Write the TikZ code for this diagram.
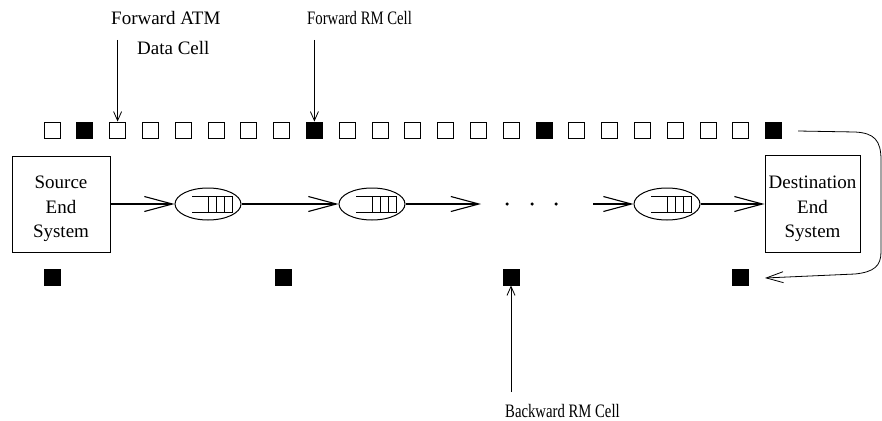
\documentclass[tikz,border=0pt]{standalone}
\usepackage{fontspec}
\setmainfont{Liberation Serif}
\newfontfamily\narrowserif[FakeStretch=0.775]{Liberation Serif}
\usetikzlibrary{arrows.meta,shapes.geometric}
\begin{document}
\begin{tikzpicture}[x=1pt,y=-1pt,
  cell/.style={draw,line width=0.9pt,minimum size=16pt,inner sep=0pt,fill=white},
  rmcell/.style={cell,fill=black},
  endsys/.style={draw,line width=1pt,inner sep=0pt},
  systext/.style={align=center,inner sep=0pt,font=\fontsize{19}{24.5}\selectfont},
  switchnode/.style={draw,ellipse,line width=1pt,minimum width=66pt,minimum height=32pt,inner sep=0pt},
  link/.style={line width=1.3pt,-{Straight Barb[length=28pt,width=15pt,line width=1.1pt]}},
  pointer/.style={line width=0.8pt,-{Straight Barb[length=9pt,width=8pt]}},
  loopback/.style={line width=0.8pt,-{Straight Barb[length=17pt,width=11pt]}},
  lbl/.style={font=\fontsize{19}{22}\selectfont,inner sep=0pt,anchor=base west},
  nlbl/.style={font=\narrowserif\fontsize{19}{22}\selectfont,inner sep=0pt,anchor=base west},
  dotnode/.style={circle,fill=black,inner sep=0pt,minimum size=3.5pt},
  queue/.style={line width=0.7pt}
]
\useasboundingbox (0,0) rectangle (882,420);

% top row of cells
\foreach \k in {0,...,22}{
  \pgfmathtruncatemacro{\r}{mod(\k,7)}
  \ifnum\r=1 \def\cs{rmcell}\else\def\cs{cell}\fi
  \node[\cs] (t\k) at ({52+32.8*\k},130) {};
}

% end systems
\node[endsys,minimum width=98pt,minimum height=96pt] (src) at (61,204) {};
\node[systext] (srcT) at (61,209) {Source\\End\\System};
\node[endsys,minimum width=95pt,minimum height=97pt] (dst) at (812.5,204) {};
\node[systext] (dstT) at (812.5,209) {Destination\\End\\System};

% switches
\node[switchnode] (q1) at (208,204) {};
\node[switchnode] (q2) at (372,204) {};
\node[switchnode] (q3) at (667,204) {};
\foreach \q in {q1,q2,q3}{
  \draw[queue] ([shift={(-16,-8)}]\q.center) -- ++(40,0) -- ++(0,16) -- ++(-40,0);
  \foreach \dx in {0,8,16} \draw[queue] ([shift={(\dx,-8)}]\q.center) -- ++(0,16);
}

% dots
\coordinate (gapL) at (481,204);
\coordinate (gapR) at (593,204);
\node[dotnode] (d1) at (507,204) {};
\node[dotnode] (d2) at (532,204) {};
\node[dotnode] (d3) at (556,204) {};

% links
\draw[link] (src.east) -- (q1.west);
\draw[link] (q1.east) -- (q2.west);
\draw[link] (q2.east) -- (gapL);
\draw[link] (gapR) -- (q3.west);
\draw[link] (q3.east) -- (dst.west);

% bottom backward RM cells
\node[rmcell] (b1) at (52,277) {};
\node[rmcell] (b2) at (283,277) {};
\node[rmcell] (b3) at (511,277) {};
\node[rmcell] (b4) at (740,277) {};

% labels and pointers
\node[lbl] (l1) at (111,25) {Forward ATM};
\node[lbl] (l2) at (137,55) {Data Cell};
\node[nlbl] (l3) at (307,25) {Forward RM Cell};
\node[nlbl] (l4) at (505,417) {Backward RM Cell};
\coordinate (p1) at (t2.north |- 0,40);
\coordinate (p2) at (t8.north |- 0,40);
\coordinate (p3) at (b3.south |- 0,392);
\draw[pointer] (p1) -- (t2.north);
\draw[pointer] (p2) -- (t8.north);
\draw[pointer] (p3) -- (b3.south);

% loop back
\coordinate (cs) at (798,131);
\coordinate (ce) at (765,278);
\draw[loopback] (cs) -- (855,132) .. controls (874,133) and (881,140) .. (881,160)
  -- (881,252) .. controls (881,266) and (874,272) .. (855,274) -- (ce);
\end{tikzpicture}
\end{document}
